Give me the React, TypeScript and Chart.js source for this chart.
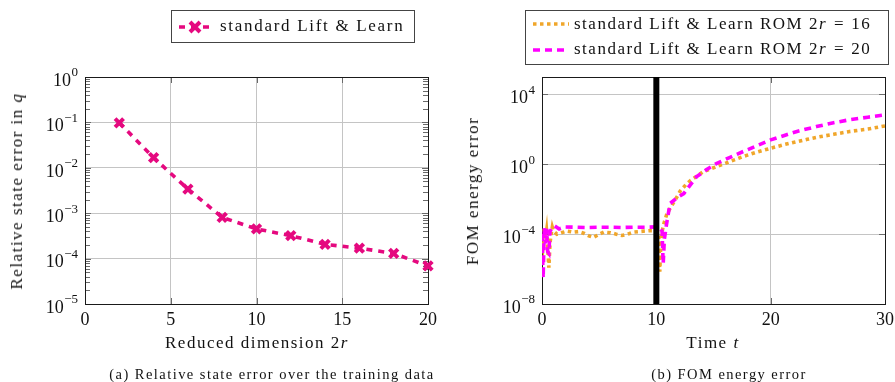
import React, { useEffect, useRef } from "react";
import { Chart, registerables } from "chart.js";

Chart.register(...registerables);

const FONT = "'Liberation Serif', 'DejaVu Serif', serif";
const GRID = "#c4c4c4";
const TICKC = "#6a6a6a";

// ---------- (a) Relative state error over the training data ----------
const reducedDims = [2, 4, 6, 8, 10, 12, 14, 16, 18, 20];
const stateErrors = [0.098, 0.0167, 0.0034, 8.1e-4, 4.5e-4, 3.2e-4, 2.06e-4, 1.7e-4, 1.3e-4, 6.9e-5];
const leftXTicks = [0, 5, 10, 15, 20];
const leftYDecades = [-5, -4, -3, -2, -1, 0];

// ---------- (b) FOM energy error ----------
const timeR16 = [
  0, 0.1, 0.2, 0.3, 0.4, 0.5, 0.6, 0.7, 0.8, 0.9, 1.0, 1.3, 1.7, 2.2, 2.7, 3.2, 3.7, 4.1, 4.5, 4.9,
  5.4, 6.0, 6.5, 7.0, 7.5, 8.0, 8.5, 9.0, 9.5, 10.0, 10.2, 10.3, 10.4, 10.6, 10.9, 11.2, 11.6, 12.1,
  12.6, 13.0, 14.1, 15.3, 16.5, 17.6, 18.8, 20, 21.2, 22.3, 23.2, 24, 25.5, 26.9, 28.5, 30,
];
const energyR16 = [
  1e-4, 3e-5, 2e-4, 5e-5, 1.5e-4, 2e-5, 1.2e-6, 3e-5, 1e-4, 2.5e-4, 1.5e-4, 1e-4, 1.2e-4, 1.5e-4,
  1.3e-4, 1.4e-4, 1.1e-4, 8e-5, 6.5e-5, 9e-5, 1.3e-4, 1.2e-4, 1.0e-4, 8.5e-5, 1.0e-4, 1.3e-4, 1.4e-4,
  1.5e-4, 1.6e-4, 1.6e-4, 1.2e-4, 7e-7, 5e-5, 3e-4, 1.3e-3, 3e-3, 8e-3, 0.03, 0.07, 0.12, 0.38, 0.75,
  1.5, 2.8, 5, 8.3, 13.5, 20, 27, 35, 52, 76, 105, 158,
];
const timeR20 = [
  0, 0.05, 0.1, 0.15, 0.2, 0.3, 0.4, 0.5, 0.6, 0.7, 0.9, 1.1, 1.5, 2.0, 3.0, 4.0, 5.0, 6.0, 7.0, 8.0,
  9.0, 10.0, 10.3, 10.5, 10.6, 10.7, 10.9, 11.2, 11.8, 12.4, 13.5, 14.4, 15.3, 16.5, 17.6, 18.8, 20,
  21.2, 22.3, 24, 25.5, 26.9, 28.5, 30,
];
const energyR20 = [
  1e-4, 5e-6, 3e-7, 1e-5, 2.5e-4, 3e-5, 2e-4, 1e-5, 8e-6, 1.5e-4, 2.2e-4, 3e-4, 2e-4, 2.6e-4, 2.5e-4,
  2.4e-4, 2.5e-4, 2.5e-4, 2.4e-4, 2.5e-4, 2.5e-4, 2.6e-4, 2.2e-4, 1.5e-4, 2e-6, 5e-5, 4e-4, 5.7e-3,
  0.012, 0.021, 0.19, 0.5, 1.15, 2.6, 5.4, 11.5, 25, 45, 76, 145, 240, 355, 500, 676,
];
const trainingEndTime = 10;
const rightXTicks = [0, 10, 20, 30];
const rightYDecades = [-8, -4, 0, 4];
const rightYMin = 1e-8;
const rightYMax = 1e5;

const isPow10 = (v: number) => Math.abs(Math.log10(v) - Math.round(Math.log10(v))) < 1e-9;

function allLogTicks(decades: number[]) {
  const out: { value: number }[] = [];
  const lo = Math.min(...decades);
  const hi = Math.max(...decades);
  for (let d = lo; d <= hi; d++) {
    for (let m = 1; m <= 9; m++) {
      if (d === hi && m > 1) break;
      out.push({ value: m * Math.pow(10, d) });
    }
  }
  return out;
}

function framePlugin(minorTicks: boolean, majorDecades: number[]) {
  return {
    id: "frame",
    beforeDatasetsDraw(chart: any) {
      const { ctx, chartArea: a } = chart;
      const xs = chart.scales.x;
      const ys = chart.scales.y;
      ctx.save();
      ctx.lineWidth = 1;
      ctx.strokeStyle = TICKC;
      ctx.beginPath();
      for (const t of ys.ticks) {
        const major = isPow10(t.value) && majorDecades.includes(Math.round(Math.log10(t.value)));
        if (!major && !minorTicks) continue;
        const p = Math.round(ys.getPixelForValue(t.value)) + 0.5;
        const len = major ? 6 : 5;
        ctx.moveTo(a.left, p);
        ctx.lineTo(a.left + len, p);
        ctx.moveTo(a.right, p);
        ctx.lineTo(a.right - len, p);
      }
      for (const t of xs.ticks) {
        const p = Math.round(xs.getPixelForValue(t.value)) + 0.5;
        ctx.moveTo(p, a.bottom);
        ctx.lineTo(p, a.bottom - 6);
        ctx.moveTo(p, a.top);
        ctx.lineTo(p, a.top + 6);
      }
      ctx.stroke();
      ctx.strokeStyle = "#1a1a1a";
      ctx.strokeRect(Math.round(a.left) + 0.5, Math.round(a.top) + 0.5, Math.round(a.right - a.left), Math.round(a.bottom - a.top));
      ctx.restore();
    },
    // y tick labels as 10 with a raised exponent, placed through the y scale
    afterDraw(chart: any) {
      const { ctx, chartArea: a } = chart;
      const ys = chart.scales.y;
      ctx.save();
      ctx.fillStyle = "#111";
      ctx.textBaseline = "middle";
      for (const d of majorDecades) {
        const p = ys.getPixelForValue(Math.pow(10, d));
        const exp = d < 0 ? "\u2212" + String(-d) : String(d);
        ctx.font = `13px ${FONT}`;
        const ew = ctx.measureText(exp).width;
        const right = a.left - 7;
        ctx.textAlign = "right";
        ctx.fillText(exp, right, p - 4);
        ctx.font = `18px ${FONT}`;
        ctx.fillText("10", right - ew - 0.5, p + 4);
      }
      ctx.restore();
    },
  };
}

function baseScales(opts: {
  xMin: number; xMax: number; xTicks: number[]; yMin: number; yMax: number;
  yTicks: { value: number }[]; yDecades: number[]; yWidth: number;
}) {
  return {
    x: {
      type: "linear",
      min: opts.xMin,
      max: opts.xMax,
      afterBuildTicks: (s: any) => { s.ticks = opts.xTicks.map((v) => ({ value: v })); },
      afterFit: (s: any) => { s.height = 78; s.paddingLeft = 0; s.paddingRight = 0; },
      grid: {
        drawTicks: false,
        color: (c: any) => (c.tick && c.tick.value > opts.xMin && c.tick.value < opts.xMax ? GRID : "rgba(0,0,0,0)"),
        lineWidth: 1,
      },
      border: { display: false },
      ticks: {
        font: { family: FONT, size: 18 }, color: "#111", padding: 5, maxRotation: 0, autoSkip: false,
        callback: (v: any) => String(v),
      },
    },
    y: {
      type: "logarithmic",
      min: opts.yMin,
      max: opts.yMax,
      afterBuildTicks: (s: any) => { s.ticks = opts.yTicks.slice(); },
      afterFit: (s: any) => { s.width = opts.yWidth; s.paddingTop = 0; s.paddingBottom = 0; },
      grid: {
        drawTicks: false,
        color: (c: any) => {
          if (!c.tick) return "rgba(0,0,0,0)";
          const v = c.tick.value;
          return isPow10(v) && v > opts.yMin * 1.0001 && v < opts.yMax * 0.9999 ? GRID : "rgba(0,0,0,0)";
        },
        lineWidth: 1,
      },
      border: { display: false },
      ticks: { display: false, autoSkip: false },
    },
  };
}

function LeftChart() {
  const ref = useRef<HTMLCanvasElement>(null);
  useEffect(() => {
    const chart = new Chart(ref.current!, {
      type: "line",
      data: {
        datasets: [
          {
            data: reducedDims.map((x, i) => ({ x, y: stateErrors[i] })),
            borderColor: "#E5097F",
            backgroundColor: "#E5097F",
            borderWidth: 3.6,
            borderDash: [6, 6],
            pointStyle: "crossRot",
            pointRadius: 6,
            pointBorderWidth: 4,
            pointBorderColor: "#E5097F",
            tension: 0,
            clip: false as any,
          },
        ],
      },
      options: {
        responsive: false,
        animation: false,
        layout: { padding: { top: 77, right: 12, left: 0, bottom: 0 } },
        plugins: { legend: { display: false }, tooltip: { enabled: false } },
        scales: baseScales({
          xMin: 0, xMax: 20, xTicks: leftXTicks, yMin: 1e-5, yMax: 1,
          yTicks: allLogTicks(leftYDecades), yDecades: leftYDecades, yWidth: 85,
        }) as any,
      },
      plugins: [framePlugin(true, leftYDecades)],
    });
    return () => chart.destroy();
  }, []);
  return <canvas ref={ref} width={440} height={382} style={{ position: "absolute", left: 0, top: 0 }} />;
}

function RightChart() {
  const ref = useRef<HTMLCanvasElement>(null);
  useEffect(() => {
    const chart = new Chart(ref.current!, {
      type: "line",
      data: {
        datasets: [
          {
            data: [{ x: trainingEndTime, y: rightYMin }, { x: trainingEndTime, y: rightYMax }],
            borderColor: "#000",
            borderWidth: 6,
            pointRadius: 0,
            borderCapStyle: "butt",
          },
          {
            data: timeR20.map((x, i) => ({ x, y: energyR20[i] })),
            borderColor: "#FF00FF",
            borderWidth: 3.6,
            borderDash: [7, 5],
            pointRadius: 0,
            tension: 0,
          },
          {
            data: timeR16.map((x, i) => ({ x, y: energyR16[i] })),
            borderColor: "#F0A62A",
            borderWidth: 3.6,
            borderDash: [3.5, 3.5],
            pointRadius: 0,
            tension: 0,
          },
        ],
      },
      options: {
        responsive: false,
        animation: false,
        layout: { padding: { top: 77, right: 10, left: 0, bottom: 0 } },
        plugins: { legend: { display: false }, tooltip: { enabled: false } },
        scales: baseScales({
          xMin: 0, xMax: 30, xTicks: rightXTicks, yMin: rightYMin, yMax: rightYMax,
          yTicks: rightYDecades.map((d) => ({ value: Math.pow(10, d) })), yDecades: rightYDecades, yWidth: 92,
        }) as any,
      },
      plugins: [framePlugin(false, rightYDecades)],
    });
    return () => chart.destroy();
  }, []);
  return <canvas ref={ref} width={445} height={382} style={{ position: "absolute", left: 450, top: 0 }} />;
}

const textStyle: React.CSSProperties = {
  position: "absolute",
  fontFamily: FONT,
  fontSize: 17,
  letterSpacing: "1.5px",
  color: "#111",
  whiteSpace: "nowrap",
  lineHeight: "20px",
};
const eq: React.CSSProperties = { display: "inline-block", margin: "0 6px 0 7px" };

export default function App() {
  return (
    <div style={{ position: "fixed", left: 0, top: 0, width: 895, height: 382, background: "#fff", overflow: "hidden" }}>
      <LeftChart />
      <RightChart />

      {/* legend (a) */}
      <div style={{ position: "absolute", left: 171, top: 10, width: 244, height: 33, border: "1px solid #444", boxSizing: "border-box" }}>
        <svg width={34} height={20} style={{ position: "absolute", left: 6, top: 6 }}>
          <line x1={1} y1={10} x2={33} y2={10} stroke="#E5097F" strokeWidth={3.6} strokeDasharray="6 6" />
          <path d="M12 5 L22 15 M22 5 L12 15" stroke="#E5097F" strokeWidth={4} />
        </svg>
        <div style={{ ...textStyle, left: 48, top: 5, letterSpacing: "1.7px" }}>standard Lift &amp; Learn</div>
      </div>

      {/* legend (b) */}
      <div style={{ position: "absolute", left: 525, top: 10, width: 364, height: 55, border: "1px solid #444", boxSizing: "border-box" }}>
        <svg width={38} height={50} style={{ position: "absolute", left: 6, top: 2 }}>
          <line x1={1} y1={11} x2={37} y2={11} stroke="#F0A62A" strokeWidth={3.6} strokeDasharray="3.5 3.5" />
          <line x1={1} y1={37} x2={37} y2={37} stroke="#FF00FF" strokeWidth={3.6} strokeDasharray="7 5" />
        </svg>
        <div style={{ ...textStyle, left: 48, top: 3 }}>standard Lift &amp; Learn ROM 2<i>r</i><span style={eq}>=</span>16</div>
        <div style={{ ...textStyle, left: 48, top: 28 }}>standard Lift &amp; Learn ROM 2<i>r</i><span style={eq}>=</span>20</div>
      </div>

      {/* axis titles */}
      <div style={{ ...textStyle, left: 257, top: 333, transform: "translateX(-50%)" }}>Reduced dimension 2<i>r</i></div>
      <div style={{ ...textStyle, left: 17, top: 191, transform: "translate(-50%, -50%) rotate(-90deg)" }}>Relative state error in <i>q</i></div>
      <div style={{ ...textStyle, left: 713, top: 333, transform: "translateX(-50%)" }}>Time <i>t</i></div>
      <div style={{ ...textStyle, left: 473, top: 191, transform: "translate(-50%, -50%) rotate(-90deg)" }}>FOM energy error</div>

      {/* captions */}
      <div style={{ ...textStyle, fontSize: 14.5, letterSpacing: "1.45px", left: 272, top: 364, transform: "translateX(-50%)" }}>
        (a) Relative state error over the training data
      </div>
      <div style={{ ...textStyle, fontSize: 14.5, letterSpacing: "1.45px", left: 729, top: 364, transform: "translateX(-50%)" }}>
        (b) FOM energy error
      </div>
    </div>
  );
}
